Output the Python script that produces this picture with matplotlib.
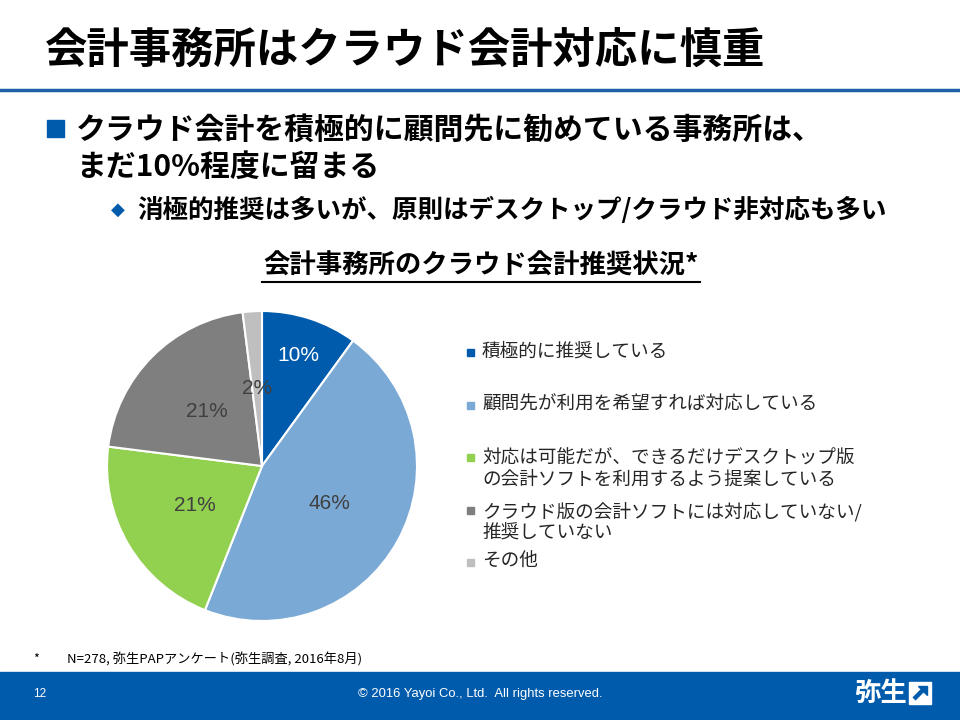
import matplotlib
matplotlib.use("Agg")
import matplotlib.pyplot as plt
from matplotlib.patches import Rectangle, Polygon

plt.rcParams['font.family'] = ['Noto Sans CJK JP', 'DejaVu Sans']

# data
categories = [
    '積極的に推奨している',
    '顧問先が利用を希望すれば対応している',
    '対応は可能だが、できるだけデスクトップ版\nの会計ソフトを利用するよう提案している',
    'クラウド版の会計ソフトには対応していない/\n推奨していない',
    'その他',
]
shares = [10, 46, 21, 21, 2]
colors = ['#005BAC', '#7BA9D6', '#92D050', '#7F7F7F', '#BFBFBF']
label_colors = ['white', '#404040', '#404040', '#404040', '#404040']

title = '会計事務所はクラウド会計対応に慎重'
bullet1 = ['クラウド会計を積極的に顧問先に勧めている事務所は、', 'まだ10%程度に留まる']
bullet2 = '消極的推奨は多いが、原則はデスクトップ/クラウド非対応も多い'
chart_title = '会計事務所のクラウド会計推奨状況*'
footnote = 'N=278, 弥生PAPアンケート(弥生調査, 2016年8月)'

W, H = 960, 720
fig = plt.figure(figsize=(9.6, 7.2), dpi=100)

# slide background axes in pixel coords
bg = fig.add_axes([0, 0, 1, 1])
bg.set_xlim(0, W)
bg.set_ylim(H, 0)
bg.axis('off')

bg.text(45, 51, title, fontsize=30.5, fontweight='bold', va='center', ha='left', color='black')
bg.plot([0, W], [90, 90], color='#1F5FA8', lw=2.5)

bg.add_patch(Rectangle((47, 120), 17, 17, color='#005BAC'))
bg.text(76, 130, bullet1[0], fontsize=21.5, fontweight='bold', va='center', color='black')
bg.text(76, 167, bullet1[1], fontsize=21.5, fontweight='bold', va='center', color='black')
bg.text(118, 210, '◆', fontsize=13, va='center', ha='center', color='#005BAC',
        family=['DejaVu Sans'])
bg.text(137, 210, bullet2, fontsize=18.4, fontweight='bold', va='center', color='black')

bg.text(481, 266, chart_title, fontsize=19, fontweight='bold', va='center', ha='center', color='black')
bg.plot([262, 700], [282, 282], color='black', lw=1.5)

# pie
cx, cy, r = 262, 466, 155
ax = fig.add_axes([(cx - r) / W, 1 - (cy + r) / H, 2 * r / W, 2 * r / H])
wedges, texts, autotexts = ax.pie(
    shares, colors=colors, startangle=90, counterclock=False,
    autopct='%d%%', pctdistance=0.5,
    wedgeprops=dict(edgecolor='white', linewidth=1.5),
)
for at, c in zip(autotexts, label_colors):
    at.set_color(c)
    at.set_family(['Liberation Sans', 'DejaVu Sans'])
    at.set_fontsize(15)
# first label sits further out
x0, y0 = autotexts[0].get_position()
autotexts[0].set_position((x0 * 1.5, y0 * 1.5))
ax.set_xlim(-1, 1)
ax.set_ylim(-1, 1)
ax.set_aspect('equal')

# legend
legend_y = [352, 405, 457, 510, 562]
for lab, col, y in zip(categories, colors, legend_y):
    bg.add_patch(Rectangle((467, y - 3.5), 7, 7, color=col))
    two = '\n' in lab
    bg.text(482, y + 12 if two else y, lab, fontsize=13.4, va='center', color='#262626',
            linespacing=1.2)

# footnote
bg.text(33, 659, '*', fontsize=9, va='center', color='black')
bg.text(67, 659, footnote, fontsize=9.5, va='center', color='black')

# footer
bg.add_patch(Rectangle((0, 672), W, 48, color='#005BAC'))
bg.text(33, 694, '12', fontsize=8.5, va='center', color='white',
        family=['Liberation Sans'])
bg.text(480, 694, '© 2016 Yayoi Co., Ltd.  All rights reserved.', fontsize=9.4,
        va='center', ha='center', color='white', family=['Liberation Sans'])
bg.text(854, 693, '弥生', fontsize=19, fontweight='bold', va='center', color='white')
bg.add_patch(Rectangle((909, 682), 22, 22, color='white'))
bg.plot([914, 924], [699, 689], color='#005BAC', lw=3.2, solid_capstyle='butt')
bg.add_patch(Polygon([(918, 686), (927, 686), (927, 695)], closed=True, color='#005BAC'))

fig.savefig('out.png', dpi=100)
